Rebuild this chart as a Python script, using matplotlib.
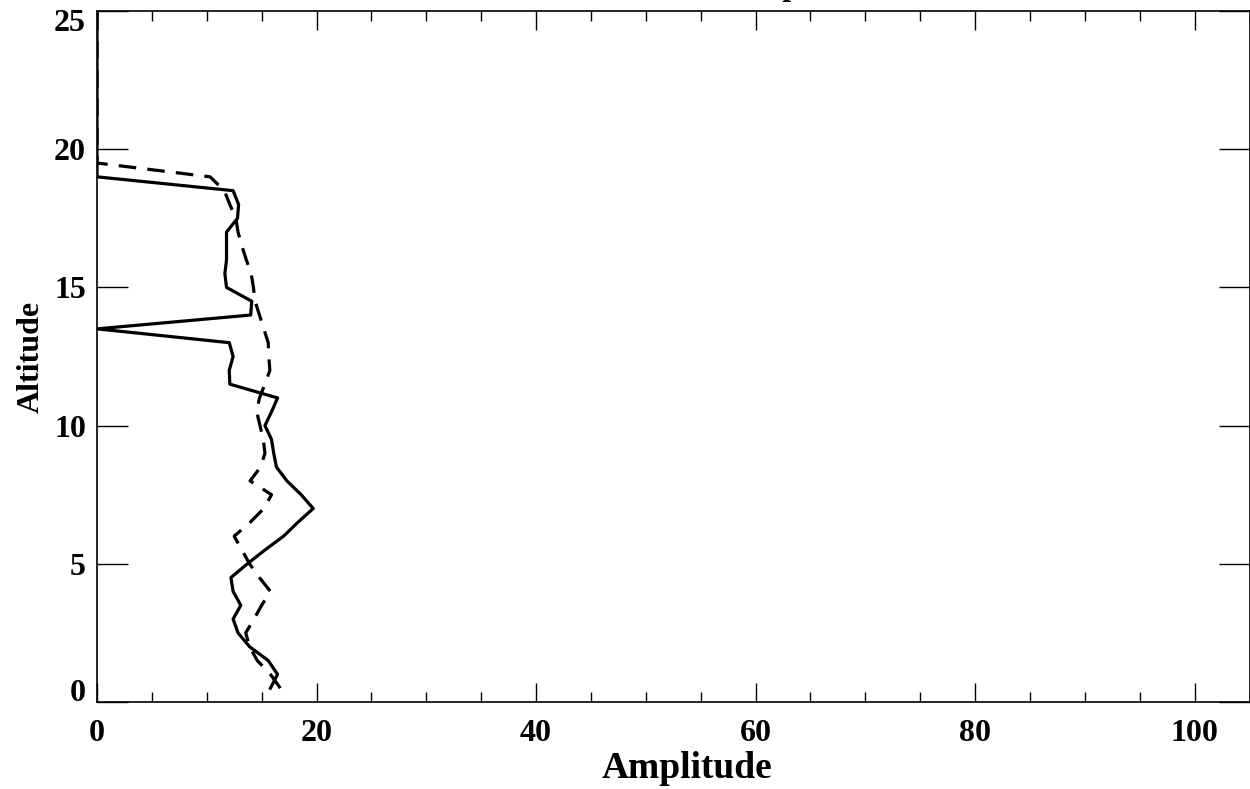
import matplotlib
matplotlib.use("Agg")
import matplotlib.pyplot as plt
import matplotlib.transforms as mtransforms
from matplotlib.ticker import MultipleLocator

plt.rcParams['font.family'] = ['Liberation Serif', 'DejaVu Serif']
plt.rcParams['font.weight'] = 'bold'

altitude = [0.5, 1.0, 1.5, 2.0, 2.5, 3.0, 3.5, 4.0, 4.5, 5.0,
            5.5, 6.0, 6.5, 7.0, 7.5, 8.0, 8.5, 9.0, 9.5, 10.0,
            10.5, 11.0, 11.5, 12.0, 12.5, 13.0, 13.5, 14.0, 14.5, 15.0,
            15.5, 16.0, 16.5, 17.0, 17.5, 18.0, 18.5, 19.0, 19.5, 20.0,
            20.5, 21.0, 21.5, 22.0, 22.5, 23.0, 23.5, 24.0, 24.5, 25.0]

amp_solid = [15.8, 16.45, 15.6, 13.9, 12.85, 12.4, 13.1, 12.4, 12.2, 13.7,
             15.3, 17.0, 18.3, 19.7, 18.6, 17.3, 16.35, 16.1, 15.9, 15.3,
             15.9, 16.45, 12.1, 12.05, 12.4, 12.05, 0.0, 14.0, 14.1, 11.8,
             11.65, 11.8, 11.8, 11.8, 12.8, 12.9, 12.4, 0.0, 0.0, 0.0,
             0.0, 0.0, 0.0, 0.0, 0.0, 0.0, 0.0, 0.0, 0.0, 0.0]

amp_dashed = [16.7, 15.8, 14.6, 13.9, 13.55, 14.3, 15.0, 15.8, 14.8, 13.9,
              13.2, 12.5, 13.95, 15.2, 15.9, 13.95, 14.9, 15.3, 15.15, 14.85,
              14.55, 14.8, 15.3, 15.75, 15.65, 15.6, 15.2, 14.8, 14.4, 14.25,
              14.05, 13.6, 13.2, 12.85, 12.65, 12.1, 11.6, 10.3, 0.0, 0.0,
              0.0, 0.0, 0.0, 0.0, 0.0, 0.0, 0.0, 0.0, 0.0, 0.0]

title_text = "Zonal, Meridional Wind Amplitude at 0, 12 UT"

fig = plt.figure(figsize=(12.5, 7.89), dpi=100)
ax = fig.add_axes([97/1250, 87/789, (1249.5-97)/1250, (702-11)/789])

ax.plot(amp_dashed, altitude, color='black', lw=2.3, ls=(0, (5.5, 3.5)))
ax.plot(amp_solid, altitude, color='black', lw=2.3)

ax.set_xlim(0, 105)
ax.set_ylim(0, 25)

ax.xaxis.set_major_locator(MultipleLocator(20))
ax.xaxis.set_minor_locator(MultipleLocator(5))
ax.yaxis.set_major_locator(MultipleLocator(5))
ax.yaxis.set_minor_locator(MultipleLocator(100))

ax.tick_params(axis='x', which='major', direction='in', length=14, width=1,
               top=True, bottom=True, labelsize=23, pad=12)
ax.tick_params(axis='x', which='minor', direction='in', length=7, width=1,
               top=True, bottom=True)
ax.tick_params(axis='y', which='major', direction='in', length=22, width=1,
               left=True, right=True, labelsize=23, pad=8)
ax.tick_params(axis='y', which='minor', length=0)

for lab in ax.get_xticklabels() + ax.get_yticklabels():
    lab.set_fontweight('bold')

for s in ax.spines.values():
    s.set_linewidth(1.2)

ax.set_ylabel('Altitude', fontsize=23, fontweight='bold', labelpad=6)

# x axis title
fig.text(687/1250, 1 - 768/789, 'Amplitude', ha='center', va='center',
         fontsize=27, fontweight='bold')

# shift end y labels inward like the original
fig.canvas.draw()
for lab in ax.get_yticklabels():
    if lab.get_text() == '0':
        lab.set_transform(lab.get_transform() + mtransforms.ScaledTranslation(0, 12/100, fig.dpi_scale_trans))
    if lab.get_text() == '25':
        lab.set_transform(lab.get_transform() + mtransforms.ScaledTranslation(0, -9/100, fig.dpi_scale_trans))

fig.text(716/1250, 1 + 5/789, title_text, ha='center', va='baseline',
         fontsize=23, fontweight='bold')

fig.savefig('out.png', dpi=100)
